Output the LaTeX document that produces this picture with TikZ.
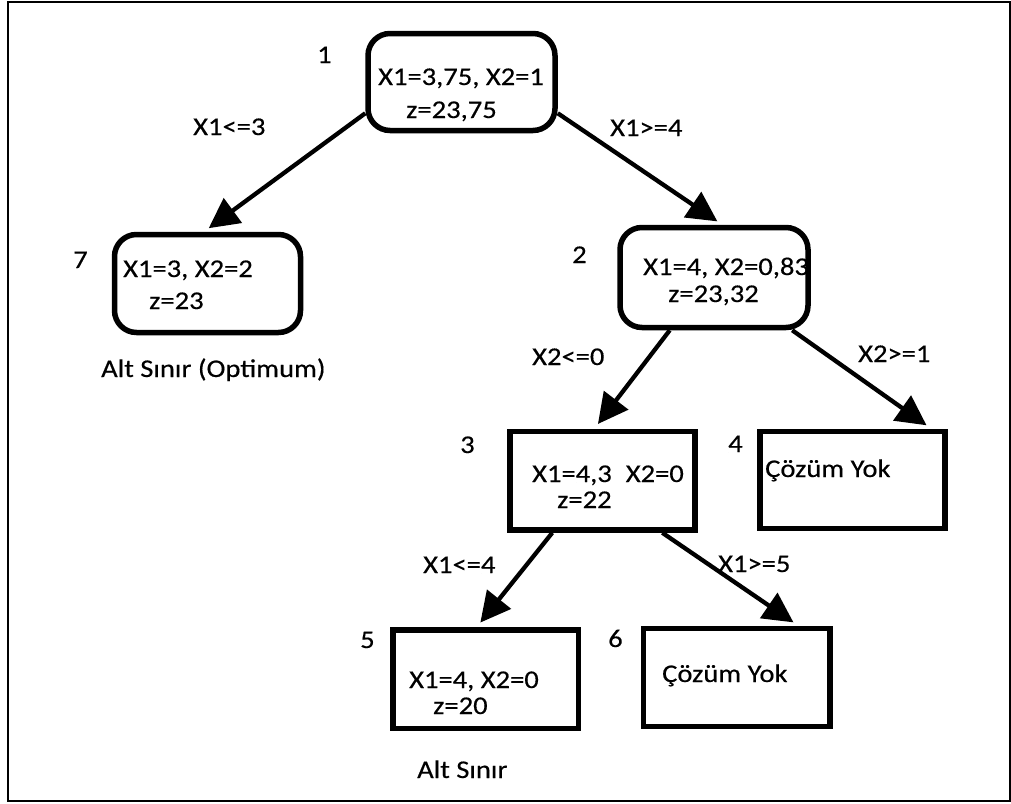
\documentclass[tikz,border=0pt]{standalone}
\usepackage{fontspec}
\setmainfont{Carlito}[FakeStretch=1.12, FakeBold=0.4]
\usetikzlibrary{arrows.meta}

\tikzset{
  kutu/.style={draw, line width=5.5pt, inner sep=0pt},
  yuvarlak/.style={kutu, rounded corners=22pt},
  dal/.style={line width=4.3pt, -{Triangle[length=30pt,width=30pt]}, shorten >=6pt},
  yazi/.style={anchor=base west, inner sep=0pt, font=\fontsize{25.5}{30}\selectfont},
}

\begin{document}
\begin{tikzpicture}[x=1pt,y=-1pt]
        % Çerçeve
        \useasboundingbox (0,0) rectangle (1011,803);
        \draw[line width=2pt] (8,2) rectangle (1010,801);

        % Kutular
        \node[yuvarlak, minimum width=187pt, minimum height=97pt] (n1) at (461.5,82) {};
        \node[yuvarlak, minimum width=186pt, minimum height=98pt] (n7) at (207.5,283.5) {};
        \node[yuvarlak, minimum width=188pt, minimum height=100pt] (n2) at (714,277.5) {};
        \node[kutu, minimum width=185pt, minimum height=98.5pt] (n3) at (602.5,480.75) {};
        \node[kutu, minimum width=185pt, minimum height=97pt] (n4) at (852.5,480) {};
        \node[kutu, minimum width=185.5pt, minimum height=98.5pt] (n5) at (485.75,679.25) {};
        \node[kutu, minimum width=186.5pt, minimum height=98pt] (n6) at (736.75,677.5) {};

        % Numaralar
        \node[yazi] (s1) at (317,63) {1};
        \node[yazi] (s7) at (73,268) {7};
        \node[yazi] (s2) at (572,263) {2};
        \node[yazi] (s3) at (460,453) {3};
        \node[yazi] (s4) at (728,452) {4};
        \node[yazi] (s5) at (360,648) {5};
        \node[yazi] (s6) at (608,647) {6};

        % Kutu içindeki yazılar
        \node[yazi] (t1a) at (378,85) {X1=3,75, X2=1};
        \node[yazi] (t1b) at (406,118) {z=23,75};
        \node[yazi] (t7a) at (123,277) {X1=3, X2=2};
        \node[yazi] (t7b) at (149,309) {z=23};
        \node[yazi] (t2a) at (643,275) {X1=4, X2=0,83};
        \node[yazi] (t2b) at (668,302) {z=23,32};
        \node[yazi] (t3a) at (532,482) {X1=4,3\hspace{14pt}X2=0};
        \node[yazi] (t3b) at (557,508) {z=22};
        \node[yazi] (t4) at (765,477) {Çözüm Yok};
        \node[yazi] (t5a) at (409,688) {X1=4, X2=0};
        \node[yazi] (t5b) at (433,714) {z=20};
        \node[yazi] (t6) at (662,682) {Çözüm Yok};

        % Alt sınır notları
        \node[yazi] (a7) at (101,377) {Alt Sınır (Optimum)};
        \node[yazi] (a5) at (417,778) {Alt Sınır};

        % Dallar
        \draw[dal] (n1.198) -- (n7.94);
        \draw[dal] (n1.-18) -- (n2.81);
        \draw[dal] (n2.230) -- (n3.99);
        \draw[dal] (n2.326) -- (n4.33);
        \draw[dal] (n3.226) -- (n5.100);
        \draw[dal] (n3.319) -- (n6.40);

        % Dal etiketleri
        \node[yazi] (k1) at (193,135) {X1<=3};
        \node[yazi] (k2) at (610,136) {X1>=4};
        \node[yazi] (k3) at (532,365) {X2<=0};
        \node[yazi] (k4) at (858,362) {X2>=1};
        \node[yazi] (k5) at (423,573) {X1<=4};
        \node[yazi] (k6) at (718,572) {X1>=5};
    \end{tikzpicture}
\end{document}
